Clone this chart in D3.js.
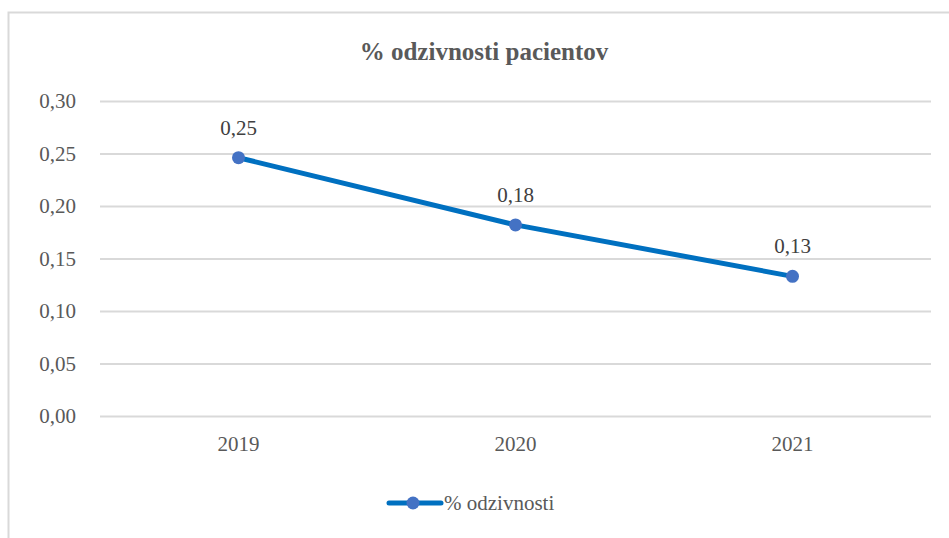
<!DOCTYPE html>
<html><head><meta charset="utf-8">
<script src="https://cdn.jsdelivr.net/npm/d3@7"></script>
</head><body style="margin:0">
<svg id="c" width="949" height="538" font-family="Times New Roman"></svg>
<script>
const categories = ["2019", "2020", "2021"];
const values = [0.246, 0.182, 0.133];
const valueLabels = ["0,25", "0,18", "0,13"];
const yTicks = [0, 0.05, 0.10, 0.15, 0.20, 0.25, 0.30];
const title = "% odzivnosti pacientov";
const seriesName = "% odzivnosti";

const FONT = "Times New Roman";
const svg = d3.select("#c");
svg.append("rect").attr("x", 8.5).attr("y", 12.5).attr("width", 960).attr("height", 560)
  .attr("fill", "#fff").attr("stroke", "#d9d9d9").attr("stroke-width", 2);

const pL = 100, pR = 931, pT = 101, pB = 416;
const x = d3.scaleBand().domain(categories).range([pL, pR]);
const y = d3.scaleLinear().domain([0, 0.30]).range([pB, pT]);
const fmt = d => d3.format(".2f")(d).replace(".", ",");

const yAxis = svg.append("g").attr("transform", `translate(${pL},0)`)
  .call(d3.axisLeft(y).tickValues(yTicks).tickFormat(fmt).tickSize(-(pR - pL)).tickPadding(24));
yAxis.select(".domain").remove();
yAxis.attr("font-family", FONT).attr("font-size", 21);
yAxis.selectAll("line").attr("stroke", "#d9d9d9").attr("stroke-width", 2);
yAxis.selectAll("text").attr("fill", "#595959");

const xAxis = svg.append("g").attr("transform", `translate(0,${pB})`)
  .call(d3.axisBottom(x).tickSize(0).tickPadding(20));
xAxis.select(".domain").remove();
xAxis.attr("font-family", FONT).attr("font-size", 21);
xAxis.selectAll("text").attr("fill", "#595959");

svg.append("text").attr("x", 484).attr("y", 60).attr("text-anchor", "middle")
  .attr("fill", "#595959").attr("font-family", FONT).attr("font-size", 25).attr("font-weight", "bold")
  .text(title);

const cx = d => x(d) + x.bandwidth() / 2;
const line = d3.line().x((d, i) => cx(categories[i])).y(d => y(d));
svg.append("path").datum(values).attr("d", line).attr("fill", "none")
  .attr("stroke", "#0070C0").attr("stroke-width", 5).attr("stroke-linecap", "round");
svg.selectAll("circle.pt").data(values).join("circle").attr("class", "pt")
  .attr("cx", (d, i) => cx(categories[i])).attr("cy", d => y(d)).attr("r", 6.5).attr("fill", "#4472C4");
svg.selectAll("text.lbl").data(values).join("text").attr("class", "lbl")
  .attr("x", (d, i) => cx(categories[i])).attr("y", d => y(d) - 23).attr("text-anchor", "middle")
  .attr("fill", "#404040").attr("font-family", FONT).attr("font-size", 21)
  .text((d, i) => valueLabels[i]);

const lg = svg.append("g");
lg.append("line").attr("x1", 389).attr("x2", 441).attr("y1", 503).attr("y2", 503)
  .attr("stroke", "#0070C0").attr("stroke-width", 5).attr("stroke-linecap", "round");
lg.append("circle").attr("cx", 413).attr("cy", 503).attr("r", 6.5).attr("fill", "#4472C4");
lg.append("text").attr("x", 444).attr("y", 510).attr("fill", "#595959")
  .attr("font-family", FONT).attr("font-size", 21).text(seriesName);
</script>
</body></html>
